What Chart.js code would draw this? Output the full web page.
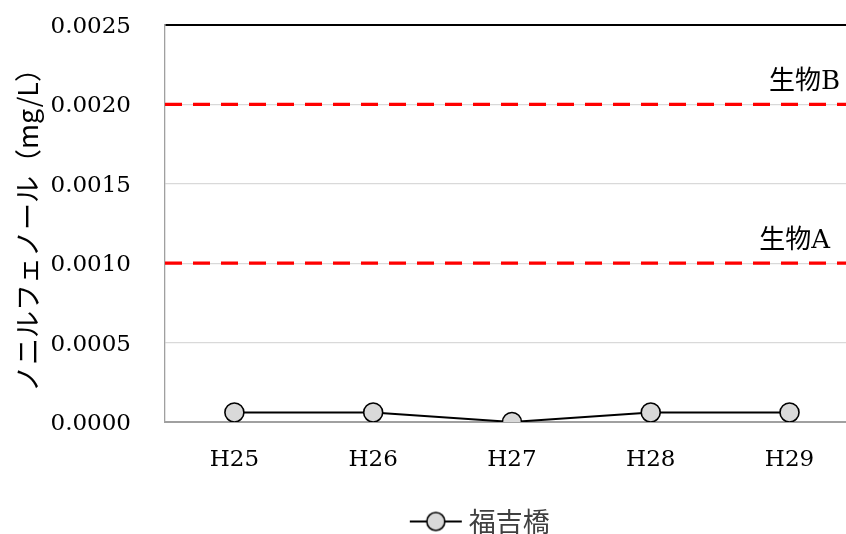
<!DOCTYPE html>
<html>
<head>
<meta charset="utf-8">
<script src="https://cdn.jsdelivr.net/npm/chart.js@4/dist/chart.umd.min.js"></script>
<style>
html,body{margin:0;padding:0;background:#fff;overflow:hidden;width:846px;height:534px;}
canvas{display:block;}
</style>
</head>
<body>
<canvas id="c" width="870" height="545"></canvas>
<script>
const categories = ['H25', 'H26', 'H27', 'H28', 'H29'];
const seriesName = '福吉橋';
const seriesValues = [0.00006, 0.00006, 0.0000, 0.00006, 0.00006];
const limitNames = ['生物A', '生物B'];
const limitValues = [0.0010, 0.0020];
const yTicks = [0.0000, 0.0005, 0.0010, 0.0015, 0.0020, 0.0025];
const yTitle = 'ノニルフェノール（mg/L）';

// legend sample: line with circle marker
const sample = document.createElement('canvas');
sample.width = 54; sample.height = 24;
(function(){
  const g = sample.getContext('2d');
  g.strokeStyle = '#000'; g.lineWidth = 2;
  g.beginPath(); g.moveTo(1, 12); g.lineTo(53, 12); g.stroke();
  g.beginPath(); g.arc(27, 12, 9, 0, Math.PI * 2);
  g.fillStyle = '#d9d9d9'; g.fill();
  g.lineWidth = 1.6; g.stroke();
})();

const limitLabelPlugin = {
  id: 'limitLabels',
  afterLayout(chart) {
    const lg = chart.legend;
    if (lg) { lg.left += 48; lg.right += 48; }
  },
  afterDatasetsDraw(chart) {
    const ctx = chart.ctx;
    const y = chart.scales.y;
    ctx.save();
    ctx.font = '26px "DejaVu Serif", "Noto Sans CJK JP", serif';
    ctx.fillStyle = '#000';
    ctx.textAlign = 'right';
    ctx.textBaseline = 'alphabetic';
    const rightEdges = [830, 840];
    limitValues.forEach((v, i) => {
      ctx.fillText(limitNames[i], rightEdges[i], y.getPixelForValue(v) - 15);
    });
    ctx.restore();
  }
};

const datasets = [{
  label: seriesName,
  data: seriesValues,
  xAxisID: 'x',
  borderColor: '#000',
  borderWidth: 2,
  pointRadius: 9.5,
  pointHoverRadius: 9.5,
  pointBackgroundColor: '#d9d9d9',
  pointBorderColor: '#000',
  pointBorderWidth: 1.6,
  tension: 0,
  order: 0
}];
limitValues.forEach((v, i) => {
  datasets.push({
    label: limitNames[i],
    data: [{x: 0, y: v}, {x: 1, y: v}],
    xAxisID: 'x2',
    borderColor: '#ff0000',
    borderWidth: 3.2,
    borderDash: [17, 11],
    pointRadius: 0,
    order: 1
  });
});

new Chart(document.getElementById('c'), {
  type: 'line',
  data: { labels: categories, datasets: datasets },
  options: {
    responsive: false,
    animation: false,
    events: [],
    layout: { padding: { top: 25, left: 0, right: 0, bottom: 0 } },
    plugins: {
      tooltip: { enabled: false },
      legend: {
        position: 'bottom',
        labels: {
          filter: (item) => item.datasetIndex === 0,
          usePointStyle: true,
          pointStyleWidth: 39,
          boxHeight: 24,
          padding: 2,
          color: '#404040',
          font: { family: '"Noto Sans CJK JP", sans-serif', size: 27 },
          generateLabels: (chart) => [{
            text: seriesName,
            pointStyle: sample,
            datasetIndex: 0,
            fontColor: '#404040',
            lineWidth: 0,
            hidden: false
          }]
        }
      }
    },
    scales: {
      x: {
        type: 'category',
        offset: true,
        grid: { display: false, drawTicks: true, tickLength: 24, tickColor: 'rgba(0,0,0,0)' },
        border: { display: true, color: '#a0a0a0', width: 2 },
        ticks: {
          color: '#000',
          padding: 0,
          font: { family: '"DejaVu Serif", serif', size: 23 }
        },
        afterFit: (s) => { s.height = 84; }
      },
      x2: {
        type: 'linear',
        display: false,
        min: 0, max: 1
      },
      y: {
        min: yTicks[0],
        max: yTicks[yTicks.length - 1],
        afterBuildTicks: (s) => { s.ticks = yTicks.map(v => ({ value: v })); },
        grid: {
          drawTicks: true,
          tickLength: 34,
          tickColor: 'rgba(0,0,0,0)',
          color: (c) => (c.tick && Math.abs(c.tick.value - 0.0025) < 1e-9) ? '#000' : '#d9d9d9',
          lineWidth: (c) => (c.tick && Math.abs(c.tick.value - 0.0025) < 1e-9) ? 2 : 1.3
        },
        border: { display: true, color: '#a0a0a0', width: 1.3 },
        ticks: {
          color: '#000',
          padding: 0,
          labelOffset: 2,
          font: { family: '"DejaVu Serif", serif', size: 23 },
          callback: (v) => Number(v).toFixed(4)
        },
        title: {
          display: true,
          text: yTitle,
          color: '#000',
          padding: { top: 12, bottom: 0 },
          font: { family: '"Noto Sans CJK JP", sans-serif', size: 27 }
        },
        afterFit: (s) => { s.width = 165; }
      }
    }
  },
  plugins: [limitLabelPlugin]
});
</script>
</body>
</html>
